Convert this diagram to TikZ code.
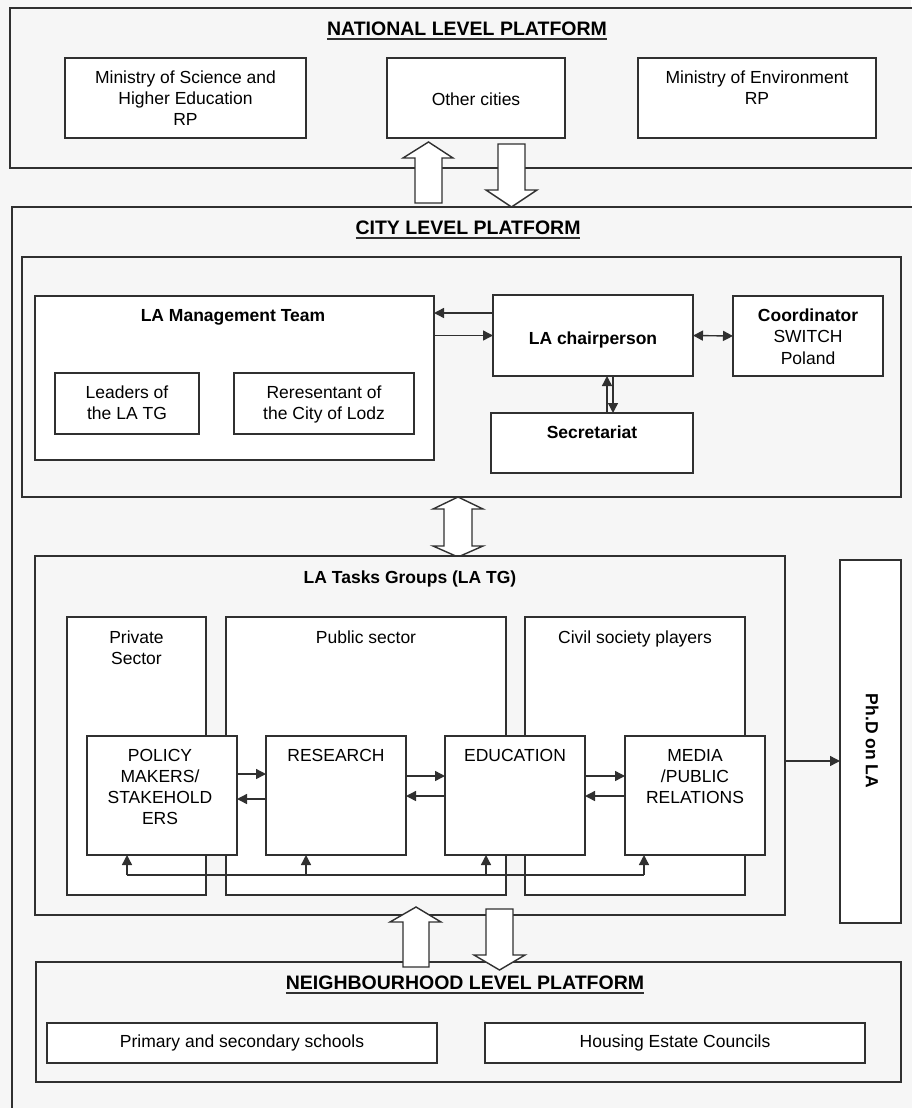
\documentclass[tikz,border=0pt]{standalone}
\usepackage{fontspec}
\setmainfont{Liberation Sans}
\usetikzlibrary{arrows.meta,calc}
\definecolor{bg}{HTML}{F6F6F6}
\definecolor{lc}{HTML}{303030}
\tikzset{
 box/.style={draw=lc, line width=1.4pt, fill=white, inner sep=0pt, outer sep=0pt},
 gbox/.style={box, fill=bg},
 txt/.style={inner sep=0pt, outer sep=0pt, align=center, text=black, font=\fontsize{17.5}{21}\selectfont},
 btxt/.style={txt, font=\fontsize{17.5}{21}\selectfont\bfseries},
 ttl/.style={inner sep=0pt, outer sep=0pt, text=black, font=\fontsize{19.5}{23}\selectfont\bfseries},
 conn/.style={draw=lc, line width=1.4pt},
 uline/.style={draw=lc, line width=1.6pt},
 arr/.style={conn, -{Triangle[length=10pt,width=10pt]}},
 arrb/.style={conn, {Triangle[length=10pt,width=10pt]}-{Triangle[length=10pt,width=10pt]}},
 blk/.style={draw=lc, line width=1.4pt, fill=white, line join=miter},
}
\newcommand\mybox[6][box]{\node[#1,anchor=north west,minimum width={(#4-#2)*1pt},minimum height={(#5-#3)*1pt}] (#6) at (#2,#3) {};}
\begin{document}
\begin{tikzpicture}[x=1pt,y=-1pt]
\useasboundingbox (0,0) rectangle (911,1108);
\fill[bg] (0,0) rectangle (911,1108);

% ---------------- National level
\mybox[gbox]{10}{8}{925}{168}{nat}
\node[ttl] (natT) at (467,29) {NATIONAL LEVEL PLATFORM};
\draw[uline] ([yshift=-3pt]natT.south west) -- ([yshift=-3pt]natT.south east);
\mybox{65}{58}{306}{138}{msh}
\node[txt, anchor=north] (mshT) at (185.5,70.7) {Ministry of Science and\\Higher Education\\RP};
\mybox{387}{58}{565}{138}{oc}
\node[txt] (ocT) at (476,99) {Other cities};
\mybox{638}{58}{876}{138}{me}
\node[txt, anchor=north] (meT) at (757,70.7) {Ministry of Environment\\RP};

% ---------------- City level
\mybox[gbox]{12}{207}{930}{1130}{city}
\node[ttl] (cityT) at (468,228) {CITY LEVEL PLATFORM};
\draw[uline] ([yshift=-3pt]cityT.south west) -- ([yshift=-3pt]cityT.south east);

% block arrows national <-> city
\draw[blk] (415,203) -- (415,158) -- (403,158) -- (428.5,142) -- (453,158) -- (442,158) -- (442,203) -- cycle;
\draw[blk] (498,144) -- (525,144) -- (525,190) -- (537,190) -- (511.5,207) -- (486,190) -- (498,190) -- cycle;

\mybox[gbox]{22}{257}{901}{497}{cityin}
\mybox{35}{296}{434}{460}{mgmt}
\node[btxt, anchor=north] (mgmtT) at (233,309.7) {LA Management Team};
\mybox{55}{373}{199}{434}{lead}
\node[txt, anchor=north] (leadT) at (127,385.7) {Leaders of\\the LA TG};
\mybox{234}{373}{414}{434}{rep}
\node[txt, anchor=north] (repT) at (324,385.7) {Reresentant of\\the City of Lodz};
\mybox{493}{295}{693}{376}{chair}
\node[btxt] (chairT) at (593,340) {LA chairperson};
\mybox{733}{296}{883}{376}{coord}
\node[txt, anchor=north, font=\fontsize{17.5}{21.5}\selectfont] (coordT) at (808,308.7) {\textbf{Coordinator}\\SWITCH\\Poland};
\mybox{491}{413}{693}{473}{sec}
\node[btxt, anchor=north] (secT) at (592,425.7) {Secretariat};

% connectors in city management
\coordinate (c1) at ([yshift=22.5pt]chair.west);
\draw[arr] (c1) -- (c1 -| mgmt.east);
\draw[arr] (mgmt.east |- chair.west) -- (chair.west);
\draw[arrb] (chair.east) -- (coord.west);
\coordinate (s1) at ([xshift=15pt]sec.north);
\draw[arr] (s1) -- (s1 |- chair.south);
\coordinate (s2) at ([xshift=20pt]chair.south);
\draw[arr] (s2) -- (s2 |- sec.north);

% double block arrow mgmt <-> TG
\draw[blk] (458,497) -- (483,509) -- (472,509) -- (472,546) -- (483,546) -- (458,557) -- (433,546) -- (444,546) -- (444,509) -- (433,509) -- cycle;

% ---------------- Task groups
\mybox[gbox]{35}{556}{785}{915}{tg}
\node[btxt, anchor=north] (tgT) at (410,570.7) {LA Tasks Groups (LA TG)};
\mybox{67}{617}{206}{895}{priv}
\node[txt, anchor=north] (privT) at (136.5,630.7) {Private\\Sector};
\mybox{226}{617}{506}{895}{pub}
\node[txt, anchor=north] (pubT) at (366,630.7) {Public sector};
\mybox{525}{617}{745}{895}{civ}
\node[txt, anchor=north] (civT) at (635,630.7) {Civil society players};

\mybox{87}{736}{237}{855}{pol}
\node[txt, anchor=north] (polT) at (160,749.7) {POLICY\\MAKERS/\\STAKEHOLD\\ERS};
\mybox{266}{736}{406}{855}{res}
\node[txt, anchor=north] (resT) at (336,749.7) {RESEARCH};
\mybox{445}{736}{585}{855}{edu}
\node[txt, anchor=north] (eduT) at (515,749.7) {EDUCATION};
\mybox{625}{736}{765}{855}{med}
\node[txt, anchor=north] (medT) at (695,749.7) {MEDIA\\/PUBLIC\\RELATIONS};

% horizontal connectors
\coordinate (a1) at ([yshift=21.5pt]pol.east);
\draw[arr] (a1) -- (a1 -| res.west);
\coordinate (a2) at ([yshift=-3.5pt]res.west);
\draw[arr] (a2) -- (a2 -| pol.east);
\coordinate (a3) at ([yshift=19.5pt]res.east);
\draw[arr] (a3) -- (a3 -| edu.west);
\coordinate (a4) at ([yshift=-0.5pt]edu.west);
\draw[arr] (a4) -- (a4 -| res.east);
\coordinate (a5) at ([yshift=19.5pt]edu.east);
\draw[arr] (a5) -- (a5 -| med.west);
\coordinate (a6) at ([yshift=-0.5pt]med.west);
\draw[arr] (a6) -- (a6 -| edu.east);

% feedback line
\coordinate (fb1) at (127,875);
\coordinate (fb2) at (306,875);
\coordinate (fb3) at (486,875);
\coordinate (fb4) at (644,875);
\draw[conn] (fb1) -- (fb4);
\draw[arr] (fb1) -- (fb1 |- pol.south);
\draw[arr] (fb2) -- (fb2 |- res.south);
\draw[arr] (fb3) -- (fb3 |- edu.south);
\draw[arr] (fb4) -- (fb4 |- med.south);

% Ph.D
\mybox{840}{560}{901}{923}{phd}
\node[btxt, rotate=-90] (phdT) at (872,741) {Ph.D on LA};
\coordinate (p1) at ([yshift=-25.5pt]tg.east);
\draw[arr] (p1) -- (p1 -| phd.west);

% ---------------- Neighbourhood level
\mybox[gbox]{36}{962}{901}{1082}{nb}
\node[ttl] (nbT) at (465,983) {NEIGHBOURHOOD LEVEL PLATFORM};
\draw[uline] ([yshift=-3pt]nbT.south west) -- ([yshift=-3pt]nbT.south east);
\mybox{47}{1023}{437}{1063}{sch}
\node[txt] (schT) at (242,1043) {Primary and secondary schools};
\mybox{485}{1023}{865}{1063}{hou}
\node[txt] (houT) at (675,1043) {Housing Estate Councils};

% block arrows TG <-> neighbourhood
\draw[blk] (416,907) -- (441,922) -- (429,922) -- (429,967) -- (403,967) -- (403,922) -- (390,922) -- cycle;
\draw[blk] (486,909) -- (513,909) -- (513,955) -- (525,955) -- (499.5,970) -- (474,955) -- (486,955) -- cycle;
\end{tikzpicture}
\end{document}
